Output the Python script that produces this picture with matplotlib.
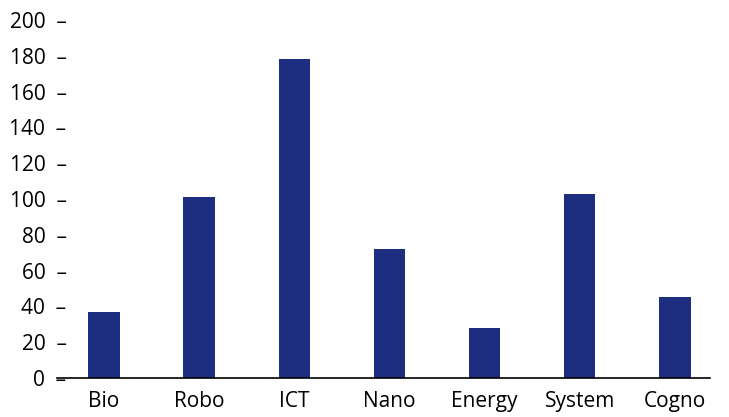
import matplotlib.pyplot as plt
import numpy as np

# data
fields = ['Bio', 'Robo', 'ICT', 'Nano', 'Energy', 'System', 'Cogno']
counts = [37, 101, 178, 72, 28, 103, 45]
yticks = [0, 20, 40, 60, 80, 100, 120, 140, 160, 180, 200]

plt.rcParams['font.family'] = ['Open Sans', 'DejaVu Sans']

fig = plt.figure(figsize=(7.29, 4.17), dpi=100)
ax = fig.add_axes([0.078, 0.0935, 0.896, 0.8585])

x = np.arange(len(fields))
ax.bar(x, counts, width=0.33, color='#1d2e80')

ax.set_xlim(-0.495, 6.37)
ax.set_ylim(0, 200)
ax.set_xticks(x)
ax.set_xticklabels(fields, fontsize=15)
ax.set_yticks(yticks)
ax.set_yticklabels(['{0}  \u2013'.format(v) for v in yticks], fontsize=15)

ax.tick_params(axis='both', length=0)
ax.tick_params(axis='y', pad=-7)
ax.tick_params(axis='x', pad=9)
for s in ['left', 'right', 'top']:
    ax.spines[s].set_visible(False)
ax.spines['bottom'].set_linewidth(1.2)

fig.savefig('out.png', dpi=100)
